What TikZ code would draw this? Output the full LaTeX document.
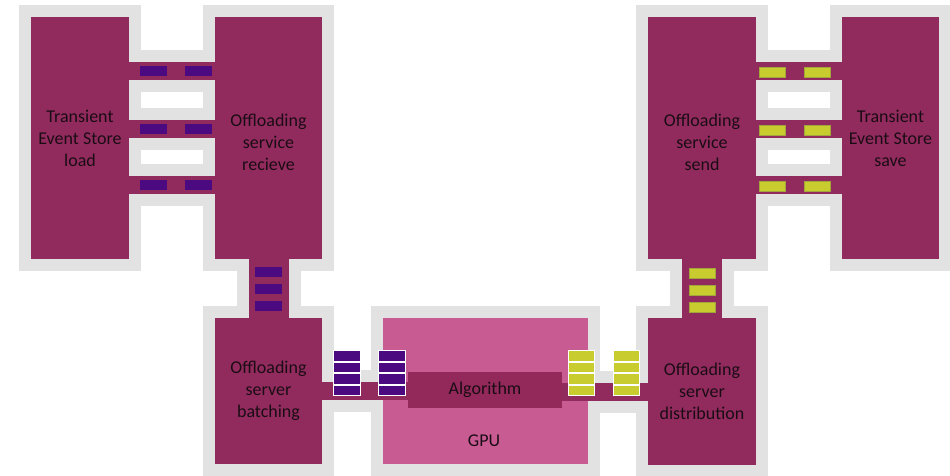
\documentclass[tikz,border=0pt]{standalone}
\usepackage{fontspec}
\setmainfont{Carlito}
\definecolor{mag}{HTML}{922B5D}
\definecolor{algoc}{HTML}{93295A}
\definecolor{gpuc}{HTML}{C95B93}
\definecolor{greyc}{HTML}{E2E2E2}
\definecolor{purp}{HTML}{4B0A80}
\definecolor{yel}{HTML}{C8CC2F}
\definecolor{yelb}{HTML}{A2A63A}
\definecolor{txt}{HTML}{1A0C14}
\pgfdeclarelayer{bg}
\pgfsetlayers{bg,main}
\newcommand\ptok[2]{\fill[purp] (#1,#2) rectangle ++(27,10);}
\newcommand\ptoks[2]{\filldraw[purp, draw=white, line width=0.8pt] (#1,#2) rectangle ++(27,10.5);}
\newcommand\ytok[2]{\filldraw[yel, draw=yelb, line width=0.6pt] (#1,#2) rectangle ++(26,10);}
\newcommand\ytoks[2]{\filldraw[yel, draw=white, line width=0.8pt] (#1,#2) rectangle ++(26,10.5);}
\begin{document}
\begin{tikzpicture}[x=1pt,y=-1pt,
  box/.style={fill=mag, inner sep=0pt, align=center, text=txt,
    font=\fontsize{18}{22}\selectfont},
  greyline/.style={draw=greyc, line width=24pt, miter limit=10},
  chan/.style={draw=mag},
  chanbg/.style={draw=greyc}]
\useasboundingbox (0,0) rectangle (950,475);
% nodes
\node[box, minimum width=98pt, minimum height=242pt] (tesl) at (80,138) {Transient\\Event Store\\load};
\node[box, minimum width=107pt, minimum height=242pt] (recv) at (268.5,138) {\rule{0pt}{22pt}Offloading\\service\\recieve};
\node[box, minimum width=108pt, minimum height=242pt] (send) at (702,138) {\rule{0pt}{22pt}Offloading\\service\\send};
\node[box, minimum width=97pt, minimum height=242pt] (tess) at (890.5,138) {Transient\\Event Store\\save};
\node[box, minimum width=107pt, minimum height=146pt] (batch) at (268.5,391) {Offloading\\server\\batching};
\node[box, minimum width=108pt, minimum height=147pt] (dist) at (702,391.5) {Offloading\\server\\distribution};
\node[box, fill=gpuc, minimum width=205pt, minimum height=146pt] (gpu) at (485.5,391) {};
\node[box, fill=algoc, minimum width=154pt, minimum height=36pt] (algo) at (485,390) {\raisebox{-2pt}{Algorithm}};
\node[text=txt, font=\fontsize{18}{22}\selectfont, inner sep=0pt] (gpul) at (484,441) {GPU};
% grey borders
\begin{pgfonlayer}{bg}
\foreach \n in {tesl,recv,send,tess,batch,dist,gpu}
  {\draw[greyline] (\n.north west) rectangle (\n.south east);}
\foreach \y in {71,129,185}{
  \draw[chanbg, line width=42pt] (tesl.east |- 0,\y) -- (recv.west |- 0,\y);
  \draw[chanbg, line width=42pt] (send.east |- 0,\y) -- (tess.west |- 0,\y);
}
\draw[chanbg, line width=64pt] (recv.south) -- (batch.north);
\draw[chanbg, line width=64pt] (send.south) -- (dist.north);
\draw[chanbg, line width=42pt] (batch.east |- 0,391) -- (algo.west |- 0,391);
\draw[chanbg, line width=42pt] (algo.east |- 0,392) -- (dist.west |- 0,392);
\end{pgfonlayer}
% channels
\foreach \y in {71,129,185}{
  \draw[chan, line width=18pt] (tesl.east |- 0,\y) -- (recv.west |- 0,\y);
  \draw[chan, line width=18pt] (send.east |- 0,\y) -- (tess.west |- 0,\y);
}
\draw[chan, line width=40pt] (recv.south) -- (batch.north);
\draw[chan, line width=40pt] (send.south) -- (dist.north);
\draw[chan, line width=18pt] (batch.east |- 0,391) -- (algo.west |- 0,391);
\draw[chan, line width=18pt] (algo.east |- 0,392) -- (dist.west |- 0,392);
% tokens
\foreach \y in {66,124,180}{\ptok{140}{\y}\ptok{185}{\y}}
\foreach \y in {67,125,181}{\ytok{759}{\y}\ytok{804}{\y}}
\foreach \y in {267,284,301}{\ptok{255}{\y}}
\foreach \y in {268,285,302}{\ytok{689}{\y}}
\foreach \y in {350.5,362,373.5,385}{\ptoks{333}{\y}\ptoks{378}{\y}}
\foreach \y in {350.5,362,373.5,385}{\ytoks{568}{\y}\ytoks{613}{\y}}
\end{tikzpicture}
\end{document}
